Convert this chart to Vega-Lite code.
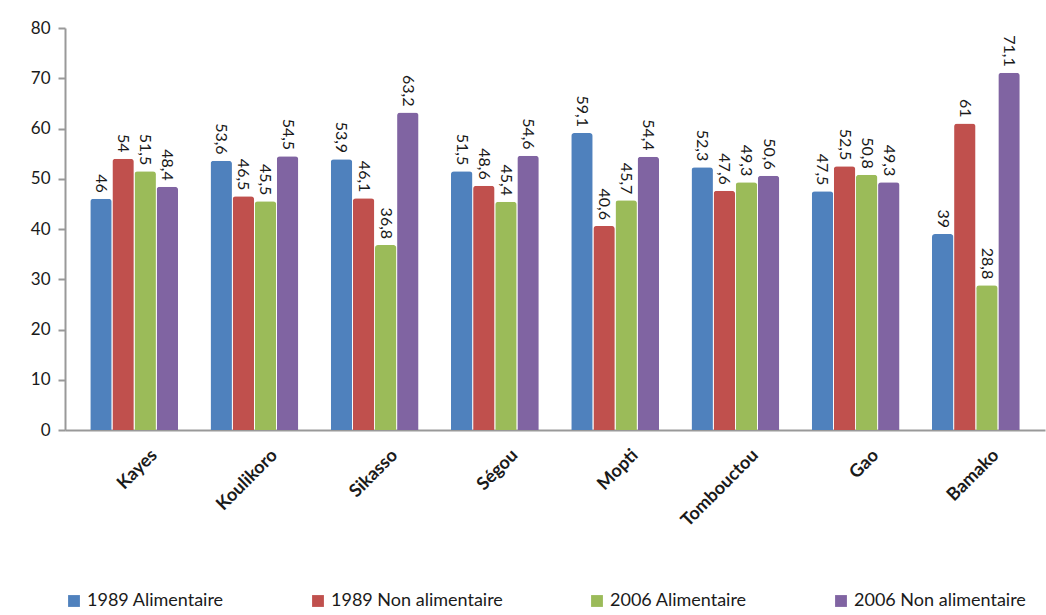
{
  "$schema": "https://vega.github.io/schema/vega-lite/v6.json",
  "width": 980,
  "height": 402,
  "padding": {"left": 30, "top": 19, "right": 5, "bottom": 5},
  "background": "white",
  "config": {
    "view": {"stroke": null},
    "font": "Lato",
    "locale": {"number": {"decimal": ",", "thousands": " ", "grouping": [3], "currency": ["", " €"]}}
  },
  "data": {
    "values": [
      {"region": "Kayes", "serie": "1989 Alimentaire", "valeur": 46},
      {"region": "Kayes", "serie": "1989 Non alimentaire", "valeur": 54},
      {"region": "Kayes", "serie": "2006 Alimentaire", "valeur": 51.5},
      {"region": "Kayes", "serie": "2006 Non alimentaire", "valeur": 48.4},
      {"region": "Koulikoro", "serie": "1989 Alimentaire", "valeur": 53.6},
      {"region": "Koulikoro", "serie": "1989 Non alimentaire", "valeur": 46.5},
      {"region": "Koulikoro", "serie": "2006 Alimentaire", "valeur": 45.5},
      {"region": "Koulikoro", "serie": "2006 Non alimentaire", "valeur": 54.5},
      {"region": "Sikasso", "serie": "1989 Alimentaire", "valeur": 53.9},
      {"region": "Sikasso", "serie": "1989 Non alimentaire", "valeur": 46.1},
      {"region": "Sikasso", "serie": "2006 Alimentaire", "valeur": 36.8},
      {"region": "Sikasso", "serie": "2006 Non alimentaire", "valeur": 63.2},
      {"region": "Ségou", "serie": "1989 Alimentaire", "valeur": 51.5},
      {"region": "Ségou", "serie": "1989 Non alimentaire", "valeur": 48.6},
      {"region": "Ségou", "serie": "2006 Alimentaire", "valeur": 45.4},
      {"region": "Ségou", "serie": "2006 Non alimentaire", "valeur": 54.6},
      {"region": "Mopti", "serie": "1989 Alimentaire", "valeur": 59.1},
      {"region": "Mopti", "serie": "1989 Non alimentaire", "valeur": 40.6},
      {"region": "Mopti", "serie": "2006 Alimentaire", "valeur": 45.7},
      {"region": "Mopti", "serie": "2006 Non alimentaire", "valeur": 54.4},
      {"region": "Tombouctou", "serie": "1989 Alimentaire", "valeur": 52.3},
      {"region": "Tombouctou", "serie": "1989 Non alimentaire", "valeur": 47.6},
      {"region": "Tombouctou", "serie": "2006 Alimentaire", "valeur": 49.3},
      {"region": "Tombouctou", "serie": "2006 Non alimentaire", "valeur": 50.6},
      {"region": "Gao", "serie": "1989 Alimentaire", "valeur": 47.5},
      {"region": "Gao", "serie": "1989 Non alimentaire", "valeur": 52.5},
      {"region": "Gao", "serie": "2006 Alimentaire", "valeur": 50.8},
      {"region": "Gao", "serie": "2006 Non alimentaire", "valeur": 49.3},
      {"region": "Bamako", "serie": "1989 Alimentaire", "valeur": 39},
      {"region": "Bamako", "serie": "1989 Non alimentaire", "valeur": 61},
      {"region": "Bamako", "serie": "2006 Alimentaire", "valeur": 28.8},
      {"region": "Bamako", "serie": "2006 Non alimentaire", "valeur": 71.1}
    ]
  },
  "encoding": {
    "x": {
      "field": "region", "type": "nominal", "sort": null,
      "scale": {"paddingInner": 0.27, "paddingOuter": 0.21},
      "axis": {
        "title": null, "labelAngle": -45, "labelAlign": "right", "labelBaseline": "top",
        "labelFontSize": 18, "labelFontWeight": "bold", "labelColor": "#1a1a1a",
        "labelPadding": 16, "labelOffset": 14, "ticks": false, "domainColor": "#999999", "domainWidth": 2
      }
    },
    "xOffset": {"field": "serie", "type": "nominal", "sort": null, "scale": {"paddingInner": 0.03}},
    "y": {
      "field": "valeur", "type": "quantitative",
      "scale": {"domain": [0, 80], "nice": false},
      "axis": {
        "title": null, "values": [0, 10, 20, 30, 40, 50, 60, 70, 80], "grid": false,
        "labelFontSize": 17, "labelColor": "#1a1a1a", "labelPadding": 8,
        "domainColor": "#999999", "domainWidth": 2, "tickColor": "#999999", "tickWidth": 2, "tickSize": 7
      }
    }
  },
  "layer": [
    {
      "mark": {"type": "bar", "cornerRadiusTopLeft": 3, "cornerRadiusTopRight": 3},
      "encoding": {
        "color": {
          "field": "serie", "type": "nominal", "sort": null,
          "scale": {
            "domain": ["1989 Alimentaire", "1989 Non alimentaire", "2006 Alimentaire", "2006 Non alimentaire"],
            "range": ["#4F81BD", "#C0504D", "#9BBB59", "#8064A2"]
          },
          "legend": {
            "title": null, "orient": "bottom", "direction": "horizontal",
            "symbolType": "square", "symbolSize": 140, "symbolStrokeWidth": 0,
            "labelFontSize": 18, "labelColor": "#1a1a1a", "columnPadding": 85,
            "offset": 62, "labelLimit": 300
          }
        }
      }
    },
    {
      "mark": {"type": "text", "angle": 90, "align": "right", "baseline": "middle", "dx": -6, "fontSize": 16, "color": "#1a1a1a"},
      "encoding": {
        "text": {"field": "valeur", "type": "quantitative", "format": ".3~g"}
      }
    }
  ]
}
